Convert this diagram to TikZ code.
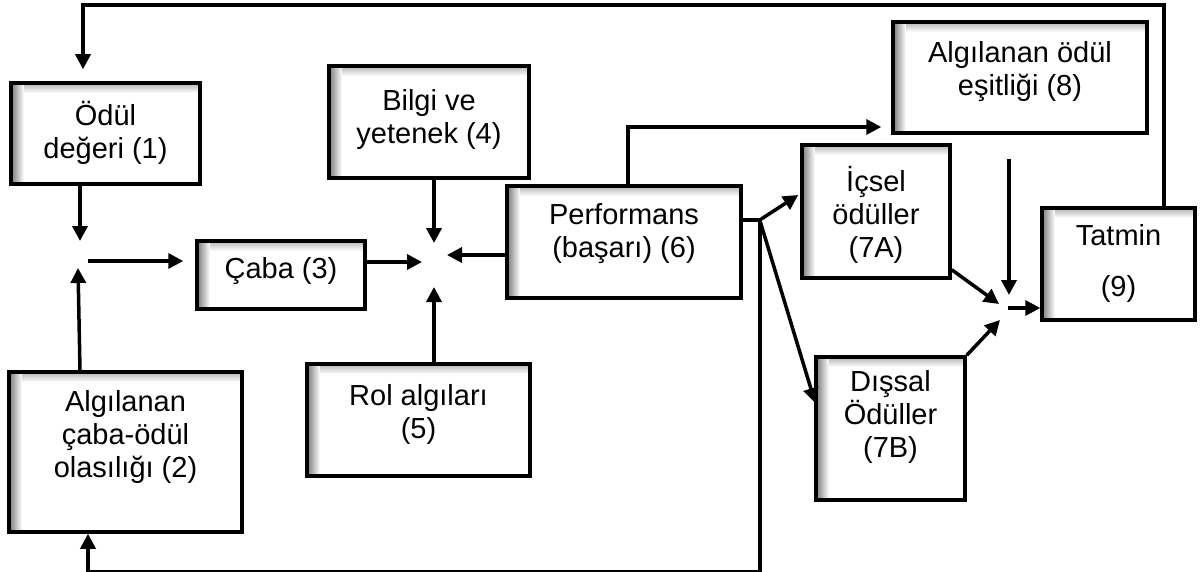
\documentclass[tikz,border=0pt]{standalone}
\usepackage{fontspec}
\setmainfont{Liberation Sans}
\usetikzlibrary{arrows.meta,calc}
\tikzset{
  box/.style={draw=black, line width=3.5pt, fill=white, inner sep=0pt,
    path picture={
      % soft inner shadow along the top edge
      \foreach \i [evaluate=\i as \c using {int(30-3*\i)}] in {0,...,9}
        \fill[black!\c]
          ($(path picture bounding box.north west)+(0,\i)$) rectangle
          ($(path picture bounding box.north east)+(0,\i+1)$);
      % and along the left edge
      \foreach \i [evaluate=\i as \c using {int(52-4*\i)}] in {0,...,12}
        \fill[black!\c]
          ($(path picture bounding box.north west)+(\i,0)$) rectangle
          ($(path picture bounding box.south west)+(\i+1,0)$);
    }},
  txt/.style={align=center, inner sep=0pt, font=\fontsize{29}{33}\selectfont},
  link/.style={line width=3.5pt},
  arr/.style={line width=3.5pt, -{Triangle[length=15pt,width=15pt]}}
}
\begin{document}
\begin{tikzpicture}[x=1pt,y=-1pt]
\useasboundingbox (0,0) rectangle (1204,572);

% boxes
\node[box, minimum width=189pt, minimum height=101pt] (b1) at (105.5,133.5) {};
\node[box, minimum width=233pt, minimum height=160pt] (b2) at (125.5,452) {};
\node[box, minimum width=168pt, minimum height=68pt]  (b3) at (281,275) {};
\node[box, minimum width=200pt, minimum height=112pt] (b4) at (429,122) {};
\node[box, minimum width=223pt, minimum height=112pt] (b5) at (418.5,420) {};
\node[box, minimum width=234pt, minimum height=112pt] (b6) at (624,242) {};
\node[box, minimum width=148pt, minimum height=133pt] (b7a) at (876,211.5) {};
\node[box, minimum width=149pt, minimum height=143pt] (b7b) at (890.5,428.5) {};
\node[box, minimum width=254pt, minimum height=111pt] (b8) at (1020,77.5) {};
\node[box, minimum width=153pt, minimum height=112pt] (b9) at (1118.5,264) {};

% labels
\node[txt] (t1) at (105.5,133) {Ödül\\değeri (1)};
\node[txt] (t2) at (125.5,437) {Algılanan\\çaba-ödül\\olasılığı (2)};
\node[txt] (t3) at (281,271) {Çaba (3)};
\node[txt] (t4) at (429,120) {Bilgi ve\\yetenek (4)};
\node[txt] (t5) at (418.5,414) {Rol algıları\\(5)};
\node[txt] (t6) at (624,234) {Performans\\(başarı) (6)};
\node[txt] (t7a) at (876,215) {İçsel\\ödüller\\(7A)};
\node[txt] (t7b) at (890.5,417) {Dışsal\\Ödüller\\(7B)};
\node[txt] (t8) at (1020,72) {Algılanan ödül\\eşitliği (8)};
\node[txt] (t9) at (1118.5,263) {Tatmin\\[18pt](9)};

% junction points
\coordinate (j1) at (80,255);
\coordinate (j2) at (434,262);
\coordinate (j3) at (1007,308);
\coordinate (s) at ($(b6.east)+(17,-22)$);

% inputs to effort
\draw[arr] (b1.south -| j1) -- ($(j1)+(0,-14)$);
\draw[arr] (b2.north -| j1) -- ($(j1)+(-2,13)$);
\draw[arr] ($(j1)+(8,6)$) -- ($(j1 -| b3.west)+(-12,6)$);

% inputs to performance
\draw[arr] (b3.east |- j2) -- ($(j2)+(-12,0)$);
\draw[arr] (b4.south -| j2) -- ($(j2)+(0,-19)$);
\draw[arr] ($(b6.west)+(0,13)$) -- ($(j2)+(13,-7)$);
\draw[arr] (b5.north -| j2) -- ($(j2)+(0,25)$);

% performance outputs
\draw[arr] ($(b6.north)+(4,0)$) |- ($(b8.west)+(-10,49.5)$);
\draw[link] ($(b6.east)+(0,-22)$) -- (s);
\draw[arr] (s) -- ($(b7a.west)+(-2,-16.5)$);
\draw[arr] (s) -- ($(b7b.west)+(1,-25.5)$);
\draw[arr] (s) |- ($(b2.south)+(-37.5,38)$) -- ($(b2.south)+(-37.5,0)$);

% rewards to satisfaction
\draw[arr] ($(b7a.south east)+(0,-10)$) -- ($(j3)+(-8,-4)$);
\draw[arr] (b7b.north east) -- ($(j3)+(-7,12)$);
\draw[arr] ($(b8.south -| j3)+(2,24)$) -- ($(j3)+(2,-13)$);
\draw[arr] ($(j3)+(1,0)$) -- (b9.west |- j3);

% feedback loop
\draw[arr] ($(b9.north)+(45.5,0)$) |- ($(b1.north)+(-22.5,-76)$) -- ($(b1.north)+(-22.5,-12)$);
\end{tikzpicture}
\end{document}
